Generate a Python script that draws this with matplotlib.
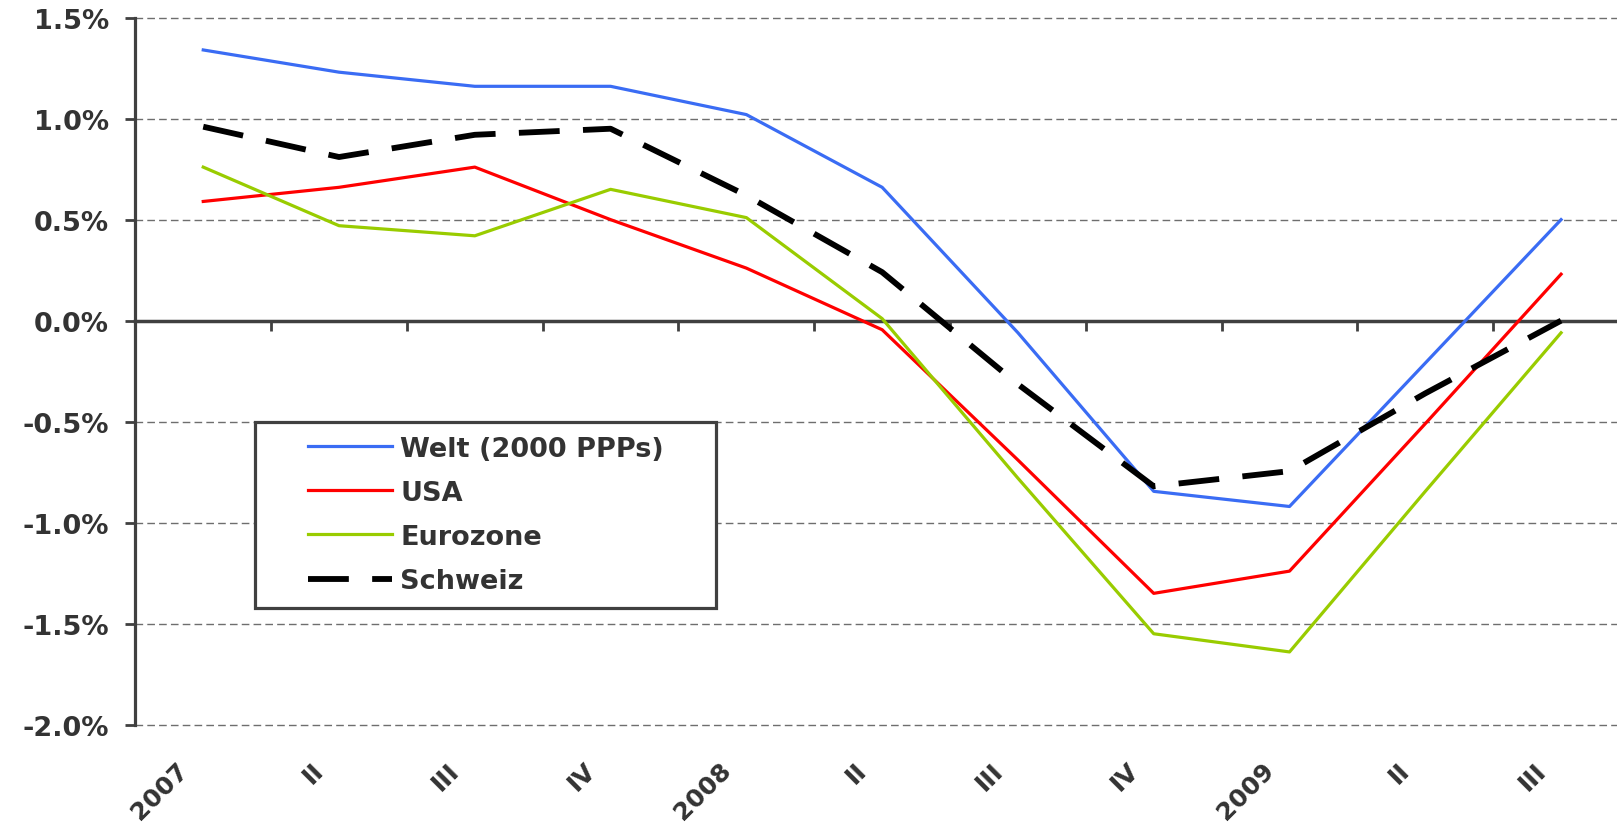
import matplotlib
matplotlib.use("Agg")
import matplotlib.pyplot as plt
import matplotlib.transforms as mtransforms
from matplotlib.patches import Rectangle
from matplotlib.ticker import FuncFormatter
import numpy as np

# Quartale 2007 I bis 2009 III
quartale = ["2007", "II", "III", "IV", "2008", "II", "III", "IV", "2009", "II", "III"]

welt = [1.34, 1.23, 1.16, 1.16, 1.02, 0.66, -0.06, -0.845, -0.92, -0.21, 0.50]
usa = [0.59, 0.66, 0.76, 0.50, 0.26, -0.045, -0.69, -1.35, -1.24, -0.51, 0.23]
eurozone = [0.76, 0.47, 0.42, 0.65, 0.51, 0.01, -0.78, -1.55, -1.64, -0.845, -0.06]
schweiz = [0.96, 0.81, 0.92, 0.95, 0.62, 0.24, -0.315, -0.82, -0.745, -0.36, 0.0]

y_ticks = [-2.0, -1.5, -1.0, -0.5, 0.0, 0.5, 1.0, 1.5]

FS = 19.5
TXT = "#333333"
ACHSE = "#404040"

plt.rcParams["font.family"] = ["DejaVu Sans"]
plt.rcParams["font.weight"] = "bold"

fig = plt.figure(figsize=(16.17, 8.28), dpi=100)
ax = fig.add_axes([0.0837, 0.1236, 0.9237, 0.8539])

x = np.arange(len(quartale))

# Gitterlinien
for v in y_ticks:
    if v != 0:
        ax.axhline(v, color="#6e6e6e", lw=1.0, ls=(0, (5.5, 3)), zorder=1, clip_on=False)

ax.plot(x, welt, color="#3a6cf4", lw=2.3, label="Welt (2000 PPPs)", zorder=3)
ax.plot(x, usa, color="#ff0000", lw=2.3, label="USA", zorder=3)
ax.plot(x, eurozone, color="#99cc00", lw=2.3, label="Eurozone", zorder=3)
ax.plot(x, schweiz, color="#000000", lw=4.2, ls=(0, (7, 4)), label="Schweiz", zorder=3)

ax.set_xlim(-0.5, len(quartale) - 0.5)
ax.set_ylim(-2.0, 1.5)

# Achsen
for s in ["top", "right"]:
    ax.spines[s].set_visible(False)
ax.spines["left"].set_color(ACHSE)
ax.spines["left"].set_linewidth(2.3)
ax.spines["bottom"].set_position(("data", 0))
ax.spines["bottom"].set_color(ACHSE)
ax.spines["bottom"].set_linewidth(2.5)
ax.spines["bottom"].set_zorder(2)

ax.set_yticks(y_ticks)
ax.yaxis.set_major_formatter(FuncFormatter(lambda v, _: f"{v:.1f}%"))
ax.tick_params(axis="y", direction="out", length=7, width=2, color=ACHSE,
               pad=12, labelsize=FS, labelcolor=TXT)

ax.set_xticks(x[:-1] + 0.5)
ax.set_xticklabels([])
ax.tick_params(axis="x", direction="out", length=7, width=2, color=ACHSE)

# Quartalsbeschriftungen unten, 45 Grad gedreht
off = mtransforms.ScaledTranslation(-0.19, 0, fig.dpi_scale_trans)
for i, q in enumerate(quartale):
    ax.text(i, -0.0585, q, transform=ax.get_xaxis_transform() + off,
            rotation=45, rotation_mode="anchor", ha="right", va="center",
            fontsize=18, fontweight="bold", color=TXT)

# Legende mit eigenem Rahmen
leg = ax.legend(loc="upper left", bbox_to_anchor=(0.1156, 0.4088), frameon=False,
                borderpad=0, borderaxespad=0, handlelength=3.1, handletextpad=0.3,
                labelspacing=0.67, prop={"size": FS, "weight": "bold"}, labelcolor=TXT)
leg.set_zorder(6)
ax.add_patch(Rectangle((0.0801, 0.1651), 0.3087, 0.2635, transform=ax.transAxes,
                       facecolor="white", edgecolor=ACHSE, lw=2.3, zorder=5,
                       clip_on=False))

fig.savefig("out.png", dpi=100)
